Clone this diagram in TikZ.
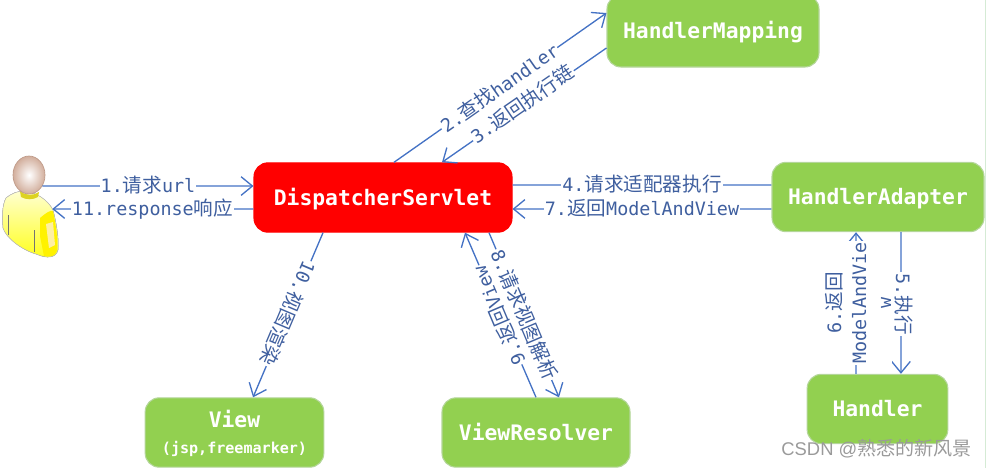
\documentclass[tikz,border=0pt]{standalone}
\usepackage{fontspec}
\setmainfont{DejaVu Sans Mono}
\newfontfamily\cjk{Noto Sans CJK SC}
\newfontfamily\wmfont{Liberation Sans}
\newcommand{\zh}[1]{{\cjk\fontsize{14.7}{16}\selectfont #1}}
\usetikzlibrary{arrows.meta}
\definecolor{boxgreen}{HTML}{92D050}
\definecolor{boxedge}{HTML}{B4D69A}
\definecolor{linkblue}{HTML}{4472C4}
\definecolor{labelblue}{HTML}{3F5F9F}
\definecolor{wmgray}{HTML}{9A9A9A}
\definecolor{edgegreen}{HTML}{D5EBD5}
\definecolor{headedge}{HTML}{BE9A88}
\definecolor{headout}{HTML}{D2AE9C}
\tikzset{
  x=0.75pt,y=-0.75pt,
  box/.style={draw=boxedge,line width=0.8pt,fill=boxgreen,rounded corners=10.5pt,text=white,font=\fontsize{16}{18}\selectfont\bfseries,inner sep=0pt,align=center,text height=11.6pt,text depth=0pt},
  mainbox/.style={box,draw=red,fill=red},
  plainlink/.style={draw=linkblue,line width=1pt},
  link/.style={plainlink,-{Straight Barb[length=8.5pt,width=14pt,line width=1pt]}},
  lab/.style={fill=white,inner sep=0.8pt,text=labelblue,font=\fontsize{13.8}{18.75}\selectfont,align=center},
  tight/.style={lab,text height=9.5pt,text depth=0.5pt},
  boxtext/.style={text=white,font=\fontsize{16}{18}\selectfont\bfseries,inner sep=0pt},
  boxsmall/.style={text=white,font=\fontsize{11.3}{13}\selectfont\bfseries,inner sep=0pt},
}
\begin{document}
\begin{tikzpicture}
\useasboundingbox (0,0) rectangle (986,468);
\draw[edgegreen,line width=0.8pt] (985.5,0) -- (985.5,468);
% boxes
\node[box,minimum width=159pt,minimum height=54pt] (mapping) at (713,31) {HandlerMapping};
\node[mainbox,minimum width=193.5pt,minimum height=52pt] (dispatcher) at (383,197.5) {DispatcherServlet};
\node[box,minimum width=159pt,minimum height=52pt] (adapter) at (878,197) {HandlerAdapter};
\node[box,minimum width=105.5pt,minimum height=52pt] (handler) at (877.5,409) {Handler};
\node[box,minimum width=134pt,minimum height=52pt] (view) at (234.5,432.5) {};
\node[boxtext] (viewt) at (234.5,419) {View};
\node[boxsmall] (views) at (234.5,449) {(jsp,freemarker)};
\node[box,minimum width=141pt,minimum height=52pt] (resolver) at (536,432.5) {ViewResolver};
% person
\node[minimum width=42pt,minimum height=78pt,inner sep=0pt] (user) at (29,208) {};
\fill[draw=black!25,line width=0.4pt,top color=yellow!18,bottom color=yellow!90] (6,198) .. controls (12,193) and (18,191) .. (24,191) .. controls (36,192) and (48,200) .. (53,210) .. controls (57,225) and (59,240) .. (58,250) .. controls (56,258) and (47,259) .. (36,254) .. controls (22,250) and (6,238) .. (3,228) .. controls (2,218) and (2,205) .. (6,198) -- cycle;
\fill[yellow] (40,218) .. controls (46,213) and (50,210) .. (53,211) .. controls (56,225) and (58,240) .. (57,250) .. controls (55,257) and (50,257) .. (44,256) -- (40,236) -- cycle;
\fill[yellow!75!orange!35] (46,224) -- (53,222) -- (55,245) -- (49,248) -- cycle;
\fill[yellow!85!black] (20,191) .. controls (26,196) and (33,196) .. (39,192) -- (38,197) .. controls (33,200) and (26,200) .. (21,197) -- cycle;
\draw[black!55,line width=0.6pt] (8,215) -- (8,235) (34,230) -- (34,252);
\shade[draw=headedge,line width=0.5pt,inner color=white,outer color=headout] (29,175) ellipse [x radius=16,y radius=19];
% connectors
\draw[link] ([xshift=-11.25pt,yshift=16.5pt]user.east) -- ([yshift=8.6pt]dispatcher.west);
\node[tight] (l1) at (148,186) {1.\zh{请求}url};
\draw[link] ([yshift=-8.6pt]dispatcher.west) -- ([xshift=-3.75pt,yshift=-0.75pt]user.east);
\node[tight] (l11) at (152.5,209) {11.response\zh{响应}};
\draw[link] ([xshift=8.25pt]dispatcher.north) -- ([yshift=13.5pt]mapping.west);
\node[tight,rotate=35] (l2) at (500,89) {2.\zh{查找}handler};
\draw[link] ([yshift=-12.75pt]mapping.west) -- ([xshift=44.25pt]dispatcher.north);
\node[tight,rotate=34.6] (l3) at (523,105) {3.\zh{返回执行链}};
\draw[plainlink] ([yshift=9.4pt]dispatcher.east) -- ([yshift=9pt]adapter.west);
\node[tight] (l4) at (642,185) {4.\zh{请求适配器执行}};
\draw[link] ([yshift=-9pt]adapter.west) -- ([yshift=-8.6pt]dispatcher.east);
\node[tight] (l7) at (642,209) {7.\zh{返回}ModelAndView};
\draw[link] ([xshift=-45pt]dispatcher.south) -- ([xshift=13.9pt]view.north);
\node[tight,rotate=247] (l10) at (287,313) {10.\zh{视图渲染}};
\draw[link] ([xshift=79.5pt]dispatcher.south) -- ([xshift=17.25pt]resolver.north);
\node[tight,rotate=-67] (l8) at (523,315) {8.\zh{请求视图解析}};
\draw[link] (resolver.north) -- ([xshift=61.5pt]dispatcher.south);
\node[tight,rotate=113] (l9) at (500,315) {9.\zh{返回}View};
\draw[link] ([xshift=17.25pt]adapter.south) -- ([xshift=17.6pt]handler.north);
\node[tight,rotate=-90] (l5) at (902,304) {5.\zh{执行}};
\draw[link] ([xshift=-16.1pt]handler.north) -- ([xshift=-16.5pt]adapter.south);
\node[lab,rotate=90] (l6) at (858,303) {6.\zh{返回}\\ModelAndVie\\w};
% watermark
\node[inner sep=0pt,text=wmgray,anchor=east,font=\wmfont\fontsize{13.8}{17}\selectfont] (mark) at (972,449) {CSDN @{\cjk\fontsize{14.3}{17}\selectfont 熟悉的新风景}};
\end{tikzpicture}
\end{document}
